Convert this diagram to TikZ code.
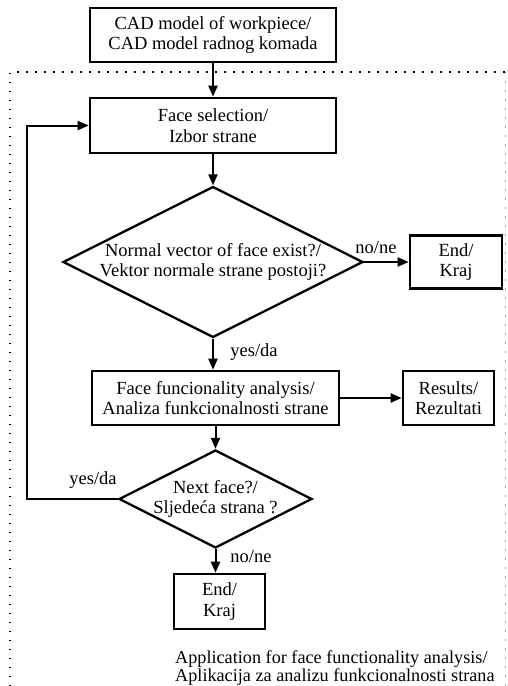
\documentclass[tikz,border=0pt]{standalone}
\usepackage{fontspec}
\setmainfont{Liberation Serif}
\usetikzlibrary{shapes.geometric,arrows.meta}
\begin{document}
\begin{tikzpicture}[x=1pt,y=-1pt,
  every node/.style={font=\fontsize{18.5}{20.5}\selectfont, align=center},
  box/.style={draw, line width=2.6pt, rectangle, inner sep=0pt},
  dia/.style={draw, line width=2.3pt, diamond, aspect=2, inner sep=0pt},
  arr/.style={line width=2pt, -{Triangle[length=11pt,width=9pt]}},
  lbl/.style={inner sep=1pt}]
\useasboundingbox (0,0) rectangle (508,686);
\fill[white] (0,0) rectangle (508,686);
% dotted frame
\draw[line width=2pt, dash pattern=on 1.5pt off 7.5pt] (10,686) -- (10,72) -- (505,72);
\draw[line width=1pt, black!35, dash pattern=on 1.5pt off 7.5pt] (505,72) -- (505,686);
% nodes
\node[box, minimum width=246pt, minimum height=54pt] (cad) at (213,35) {CAD model of workpiece/\\CAD model radnog komada};
\node[box, minimum width=246pt, minimum height=55pt] (face) at (213,125.5) {Face selection/\\Izbor strane};
\node[dia, minimum width=300pt, minimum height=151pt] (d1) at (213,262) {};
\node at (d1) {Normal vector of face exist?/\\Vektor normale strane postoji?};
\node[box, minimum width=92pt, minimum height=53pt] (end1) at (456,262) {End/\\Kraj};
\node[box, minimum width=247pt, minimum height=54pt] (an) at (215.5,398) {Face funcionality analysis/\\Analiza funkcionalnosti strane};
\node[box, minimum width=91pt, minimum height=54pt] (res) at (448.5,398) {Results/\\Rezultati};
\node[dia, minimum width=193pt, minimum height=98pt] (d2) at (215.5,499) {};
\node at (d2) {Next face?/\\Sljedeća strana ?};
\node[box, minimum width=91pt, minimum height=55pt] (end2) at (219.5,601.5) {End/\\Kraj};
\node[anchor=north west, align=left, inner sep=0pt, font=\fontsize{18.2}{18}\selectfont] (app) at (175,650) {Application for face functionality analysis/\\Aplikacija za analizu funkcionalnosti strana};
\coordinate (loop) at (27,499);
% connectors
\draw[arr] (cad.south) -- (face.north);
\draw[arr] (face.south) -- (d1.north);
\draw[arr] (d1.east) -- (end1.west);
\draw[arr] (d1.south) -- (d1.south |- an.north);
\draw[arr] (an.east) -- (res.west);
\draw[arr] (an.south) -- (d2.north);
\draw[arr] (d2.south) -- (d2.south |- end2.north);
\draw[arr] (d2.west) -- (loop) |- (face.west);
% labels
\node[lbl] at (376,247) {no/ne};
\node[lbl] at (254,352) {yes/da};
\node[lbl] at (93,480) {yes/da};
\node[lbl] at (251,556) {no/ne};
\end{tikzpicture}
\end{document}
